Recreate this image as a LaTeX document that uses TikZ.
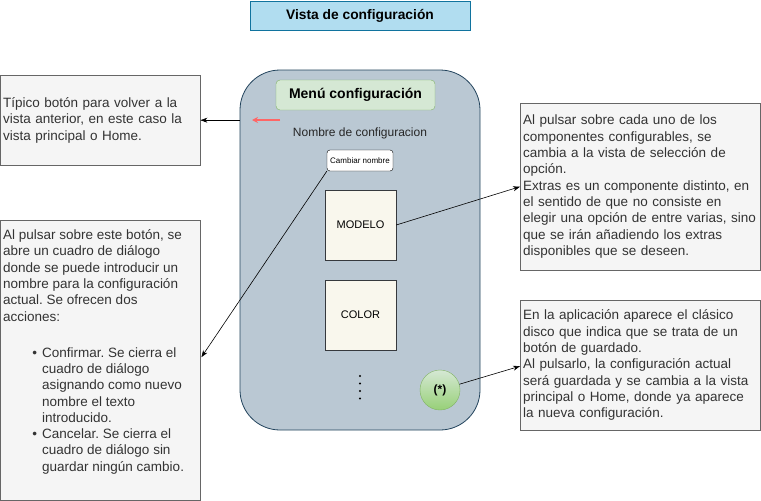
\documentclass[tikz,border=0pt]{standalone}
\usepackage{fontspec}
\setmainfont{Liberation Sans}
\frenchspacing
\usetikzlibrary{arrows.meta,calc}
\definecolor{notefill}{HTML}{F5F5F5}
\definecolor{notedraw}{HTML}{666666}
\definecolor{notetext}{HTML}{333333}
\definecolor{titlefill}{HTML}{B1DDF0}
\definecolor{titledraw}{HTML}{10739E}
\definecolor{phonefill}{HTML}{BAC8D3}
\definecolor{phonedraw}{HTML}{23445D}
\definecolor{menufill}{HTML}{D5E8D4}
\definecolor{menudraw}{HTML}{82B366}
\definecolor{compfill}{HTML}{F9F7ED}
\definecolor{compdraw}{HTML}{36393D}
\definecolor{greendark}{HTML}{97D077}
\definecolor{backred}{HTML}{FF6666}
\tikzset{
  note/.style={draw=notedraw, fill=notefill, text=notetext, inner sep=3pt, align=left,
    font=\fontsize{13.5}{16.3}\selectfont, anchor=north west},
  notetxt/.style={text=notetext, inner sep=0pt, align=left,
    font=\fontsize{13.5}{16.3}\selectfont, anchor=north west},
  comp/.style={draw=compdraw, fill=compfill, minimum width=71pt, minimum height=70pt,
    font=\fontsize{11}{13}\selectfont, inner sep=0pt},
  arr/.style={-{Stealth[length=7pt,width=5pt]}, black, line width=0.6pt},
}
\begin{document}
\begin{tikzpicture}[x=1pt,y=-1pt]
\useasboundingbox (0,0) rectangle (761,501);
\fill[white] (0,0) rectangle (761,501);
% title
\node[draw=titledraw, fill=titlefill, minimum width=220pt, minimum height=29pt, inner sep=0pt,
  font=\bfseries\fontsize{13.8}{16}\selectfont] (title) at (360,15.5) {Vista de configuración};
% phone
\node[draw=phonedraw, fill=phonefill, rounded corners=40pt, minimum width=240pt, minimum height=360pt,
  inner sep=0pt, line width=0.8pt] (phone) at (360,250) {};
\node[draw=menudraw, fill=menufill, rounded corners=4pt, minimum width=159pt, minimum height=30pt,
  inner sep=0pt, font=\bfseries\fontsize{14}{16}\selectfont] (menu) at (355.5,95) {Menú configuración};
\draw[backred, line width=1.3pt, -{Stealth[length=6pt,width=6pt]}] (280,120) -- (252,120);
\node[font=\fontsize{12}{14}\selectfont, text=black!85] (nombre) at (360,133.5) {Nombre de configuracion};
\node[draw=black, fill=white, rounded corners=3pt, minimum width=66pt, minimum height=21pt,
  inner sep=0pt, font=\fontsize{8}{10}\selectfont] (cn) at (360,160.5) {Cambiar nombre};
\node[comp] (modelo) at (360.5,225) {MODELO};
\node[comp] (color) at (360.5,315) {COLOR};
\foreach \yy in {376,383.5,391,398.5} \fill (360,\yy) circle (1.2pt);
\node[circle, draw=menudraw, top color=menufill, bottom color=greendark, minimum size=40pt,
  inner sep=0pt, font=\bfseries\fontsize{12}{14}\selectfont] (save) at (440,390) {(*)};
% notes
\node[note, minimum width=200pt, minimum height=90pt, text width=194pt] (lb1) at (0,75)
  {Típico botón para volver a la\\vista anterior, en este caso la\\vista principal o Home.};
\node[note, minimum width=200pt, minimum height=280pt] (lb2) at (0,220) {};
\node[notetxt] (lb2txt) at (3,229.5)
  {Al pulsar sobre este botón, se\\abre un cuadro de diálogo\\donde se puede introducir un\\nombre para la configuración\\actual. Se ofrecen dos\\acciones:\\[19.7pt]
  \hspace*{39pt}\llap{\textbullet\hspace{5pt}}Confirmar. Se cierra el\\
  \hspace*{39pt}cuadro de diálogo\\
  \hspace*{39pt}asignando como nuevo\\
  \hspace*{39pt}nombre el texto\\
  \hspace*{39pt}introducido.\\
  \hspace*{39pt}\llap{\textbullet\hspace{5pt}}Cancelar. Se cierra el\\
  \hspace*{39pt}cuadro de diálogo sin\\
  \hspace*{39pt}guardar ningún cambio.};
\node[note, minimum width=240pt, minimum height=167pt, text width=234pt] (rb1) at (520,103)
  {Al pulsar sobre cada uno de los\\componentes configurables, se\\cambia a la vista de selección de\\opción.\\Extras es un componente distinto, en\\el sentido de que no consiste en\\elegir una opción de entre varias, sino\\que se irán añadiendo los extras\\disponibles que se deseen.};
\node[note, minimum width=240pt, minimum height=130pt, text width=234pt] (rb2) at (520,300)
  {En la aplicación aparece el clásico\\disco que indica que se trata de un\\botón de guardado.\\Al pulsarlo, la configuración actual\\será guardada y se cambia a la vista\\principal o Home, donde ya aparece\\la nueva configuración.};
% connectors
\draw[arr] (phone.west |- lb1.east) -- (lb1.east);
\draw[arr] (cn.south west) -- ($(lb2.east)+(1,-3)$);
\draw[arr] (modelo.east) -- (rb1.west);
\draw[arr] (save) -- ($(rb2.west)+(0,1)$);
\end{tikzpicture}
\end{document}
